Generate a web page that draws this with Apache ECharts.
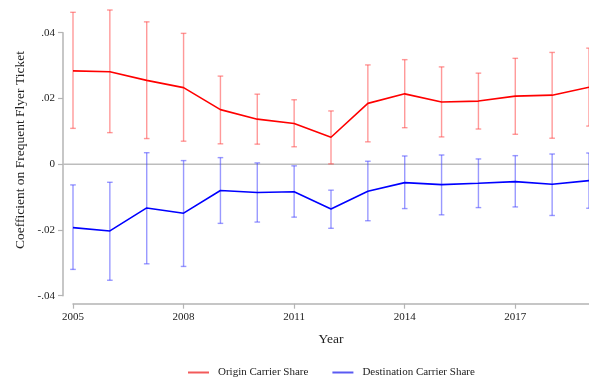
<!DOCTYPE html>
<html>
<head>
<meta charset="utf-8">
<script src="https://cdn.jsdelivr.net/npm/echarts@6/dist/echarts.min.js"></script>
<style>
  html, body { margin: 0; padding: 0; background: #fff; }
  #chart { width: 589px; height: 378px; }
</style>
</head>
<body>
<div id="chart"></div>
<script>
// Year-by-year coefficients with 95% confidence bounds
const years = [2005, 2006, 2007, 2008, 2009, 2010, 2011, 2012, 2013, 2014, 2015, 2016, 2017, 2018, 2019];

const originCoef = [0.0284, 0.0281, 0.0255, 0.0233, 0.0166, 0.0137, 0.0124, 0.0082, 0.0185, 0.0214, 0.0189, 0.0192, 0.0207, 0.0210, 0.0234];
const originLow  = [0.0109, 0.0096, 0.0078, 0.0070, 0.0062, 0.0061, 0.0053, 0.0001, 0.0068, 0.0111, 0.0083, 0.0107, 0.0091, 0.0079, 0.0116];
const originHigh = [0.0462, 0.0469, 0.0433, 0.0398, 0.0268, 0.0213, 0.0196, 0.0162, 0.0302, 0.0318, 0.0296, 0.0277, 0.0322, 0.0340, 0.0353];

const destCoef = [-0.0193, -0.0203, -0.0133, -0.0149, -0.0080, -0.0086, -0.0084, -0.0136, -0.0082, -0.0056, -0.0062, -0.0058, -0.0053, -0.0061, -0.0050];
const destLow  = [-0.0320, -0.0353, -0.0303, -0.0311, -0.0180, -0.0176, -0.0161, -0.0195, -0.0172, -0.0135, -0.0154, -0.0132, -0.0130, -0.0156, -0.0134];
const destHigh = [-0.0063, -0.0055, 0.0035, 0.0011, 0.0020, 0.0004, -0.0005, -0.0079, 0.0009, 0.0025, 0.0028, 0.0016, 0.0026, 0.0031, 0.0034];

const xTicks = [2005, 2008, 2011, 2014, 2017];
const yTicks = [-0.04, -0.02, 0, 0.02, 0.04];

const seriesNames = ['Origin Carrier Share', 'Destination Carrier Share'];
const yTitle = 'Coefficient on Frequent Flyer Ticket';
const xTitle = 'Year';

const FONT = '"Liberation Serif", "DejaVu Serif", serif';
const AXIS_GRAY = '#b4b4b4';

function fmtY(v) {
  if (Math.abs(v) < 1e-12) return '0';
  const s = Math.abs(v).toFixed(2).replace(/^0/, '');
  return (v < 0 ? '-' : '') + s;
}

function fmtX(v) {
  return String(Math.round(v));
}

function ciData(low, high) {
  return years.map((y, i) => [y, low[i], high[i]]);
}

function errorBarRenderer(color) {
  return function (params, api) {
    const x = api.value(0);
    const lo = api.coord([x, api.value(1)]);
    const hi = api.coord([x, api.value(2)]);
    const cap = 2.8;
    const style = { stroke: color, lineWidth: 1.4 };
    return {
      type: 'group',
      children: [
        { type: 'line', shape: { x1: lo[0], y1: lo[1], x2: hi[0], y2: hi[1] }, style },
        { type: 'line', shape: { x1: hi[0] - cap, y1: hi[1], x2: hi[0] + cap, y2: hi[1] }, style },
        { type: 'line', shape: { x1: lo[0] - cap, y1: lo[1], x2: lo[0] + cap, y2: lo[1] }, style }
      ]
    };
  };
}

const chart = echarts.init(document.getElementById('chart'), null, { renderer: 'canvas' });

chart.setOption({
  animation: false,
  backgroundColor: '#ffffff',
  grid: { left: 73, top: 32.7, width: 517, bottom: 82.3, containLabel: false },
  legend: {
    top: 362,
    left: 183,
    itemWidth: 21,
    itemHeight: 2,
    itemGap: 24,
    icon: 'rect',
    textStyle: { fontFamily: FONT, fontSize: 11, color: '#222', padding: [0, 0, 0, 4] },
    data: [
      { name: seriesNames[0], itemStyle: { color: '#f25a5a' } },
      { name: seriesNames[1], itemStyle: { color: '#5a5af2' } }
    ]
  },
  xAxis: {
    type: 'value',
    min: 2005,
    max: 2019,
    offset: 8,
    name: xTitle,
    nameLocation: 'middle',
    nameGap: 29,
    nameTextStyle: { fontFamily: FONT, fontSize: 13.5, color: '#222' },
    axisLine: { show: true, onZero: false, lineStyle: { color: AXIS_GRAY, width: 1.5 } },
    axisTick: { show: true, length: 5, customValues: xTicks, lineStyle: { color: AXIS_GRAY, width: 1.2 } },
    axisLabel: { customValues: xTicks, formatter: fmtX, fontFamily: FONT, fontSize: 11, color: '#222', margin: 8 },
    splitLine: { show: false }
  },
  yAxis: {
    type: 'value',
    min: -0.04,
    max: 0.04,
    offset: 10,
    axisLine: { show: true, onZero: false, lineStyle: { color: AXIS_GRAY, width: 1.5 } },
    axisTick: { show: true, length: 5, customValues: yTicks, lineStyle: { color: AXIS_GRAY, width: 1.2 } },
    axisLabel: { customValues: yTicks, formatter: fmtY, fontFamily: FONT, fontSize: 11, color: '#222', margin: 8 },
    splitLine: { show: false }
  },
  graphic: [
    {
      type: 'text',
      x: 20,
      y: 150,
      rotation: Math.PI / 2,
      style: {
        text: yTitle,
        fontFamily: FONT,
        fontSize: 13.5,
        fill: '#222',
        align: 'center',
        verticalAlign: 'middle'
      }
    }
  ],
  series: [
    {
      // reference line at zero, running from the y axis to the right edge
      type: 'custom',
      silent: true,
      clip: false,
      data: [[years[0], 0, years[years.length - 1]]],
      renderItem: function (params, api) {
        const a = api.coord([api.value(0), api.value(1)]);
        const b = api.coord([api.value(2), api.value(1)]);
        return {
          type: 'line',
          shape: { x1: a[0] - 10, y1: a[1], x2: b[0], y2: b[1] },
          style: { stroke: '#bdbdbd', lineWidth: 1.6 }
        };
      },
      z: 1
    },
    {
      type: 'custom',
      silent: true,
      clip: false,
      data: ciData(originLow, originHigh),
      renderItem: errorBarRenderer('rgba(255, 70, 70, 0.55)'),
      z: 2
    },
    {
      type: 'custom',
      silent: true,
      clip: false,
      data: ciData(destLow, destHigh),
      renderItem: errorBarRenderer('rgba(70, 70, 255, 0.55)'),
      z: 2
    },
    {
      name: seriesNames[0],
      type: 'line',
      data: years.map((y, i) => [y, originCoef[i]]),
      symbol: 'none',
      lineStyle: { color: '#ff0000', width: 1.6 },
      itemStyle: { color: '#ff0000' },
      z: 3
    },
    {
      name: seriesNames[1],
      type: 'line',
      data: years.map((y, i) => [y, destCoef[i]]),
      symbol: 'none',
      lineStyle: { color: '#0000ff', width: 1.6 },
      itemStyle: { color: '#0000ff' },
      z: 3
    }
  ]
});
</script>
</body>
</html>
